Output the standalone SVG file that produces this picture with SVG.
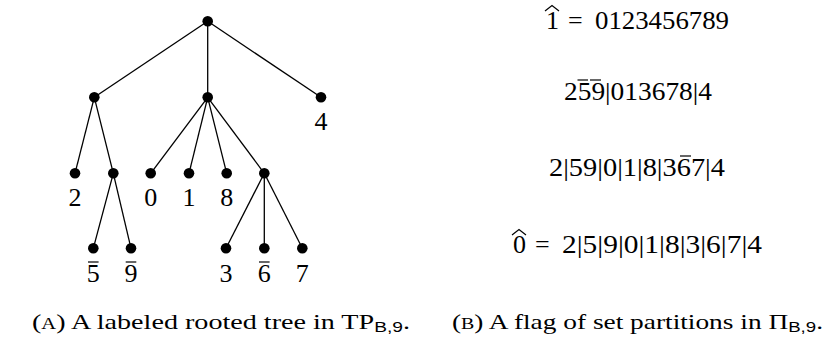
<svg xmlns="http://www.w3.org/2000/svg" width="827" height="338" viewBox="0 0 827 338">
<style>
.e{stroke:#000;stroke-width:1.3;fill:none}
.d{fill:#000}
.t{font-family:"Liberation Serif","DejaVu Serif",serif;font-size:26px;fill:#000}
.l{font-family:"Liberation Serif","DejaVu Serif",serif;font-size:26px;fill:#000;text-anchor:middle}
.b{stroke:#000;stroke-width:1.2;fill:none}
.c{font-family:"Liberation Serif","DejaVu Serif",serif;font-size:22px;fill:#000}
.s{font-family:"Liberation Sans","DejaVu Sans",sans-serif;font-size:15px}
</style>
<rect width="827" height="338" fill="#fff"/>
<g id="connectors">
<line class="e" x1="207.7" y1="21.3" x2="94.3" y2="97.3"/>
<line class="e" x1="207.7" y1="21.3" x2="207.7" y2="97.3"/>
<line class="e" x1="207.7" y1="21.3" x2="321" y2="97.3"/>
<line class="e" x1="94.3" y1="97.3" x2="75" y2="173.3"/>
<line class="e" x1="94.3" y1="97.3" x2="113.3" y2="173.3"/>
<line class="e" x1="207.7" y1="97.3" x2="150.7" y2="173.3"/>
<line class="e" x1="207.7" y1="97.3" x2="189" y2="173.3"/>
<line class="e" x1="207.7" y1="97.3" x2="226.7" y2="173.3"/>
<line class="e" x1="207.7" y1="97.3" x2="264.3" y2="173.3"/>
<line class="e" x1="113.3" y1="173.3" x2="93.3" y2="248.3"/>
<line class="e" x1="113.3" y1="173.3" x2="131" y2="248.3"/>
<line class="e" x1="264.3" y1="173.3" x2="226" y2="248.3"/>
<line class="e" x1="264.3" y1="173.3" x2="264.3" y2="248.3"/>
<line class="e" x1="264.3" y1="173.3" x2="302.3" y2="248.3"/>
</g>
<g id="root"><circle class="d" cx="207.7" cy="21.3" r="5.3"/></g>
<g id="n-a"><circle class="d" cx="94.3" cy="97.3" r="5.3"/></g>
<g id="n-b"><circle class="d" cx="207.7" cy="97.3" r="5.3"/></g>
<g id="n-4"><circle class="d" cx="321" cy="97.3" r="5.3"/><text class="l" x="321" y="130">4</text></g>
<g id="n-2"><circle class="d" cx="75" cy="173.3" r="5.3"/><text class="l" x="75" y="206">2</text></g>
<g id="n-c"><circle class="d" cx="113.3" cy="173.3" r="5.3"/></g>
<g id="n-0"><circle class="d" cx="150.7" cy="173.3" r="5.3"/><text class="l" x="150.7" y="206">0</text></g>
<g id="n-1"><circle class="d" cx="189" cy="173.3" r="5.3"/><text class="l" x="189" y="206">1</text></g>
<g id="n-8"><circle class="d" cx="226.7" cy="173.3" r="5.3"/><text class="l" x="226.7" y="206">8</text></g>
<g id="n-e"><circle class="d" cx="264.3" cy="173.3" r="5.3"/></g>
<g id="n-5b"><circle class="d" cx="93.3" cy="248.3" r="5.3"/><text class="l" x="93.3" y="282">5</text><line class="b" x1="88" y1="262" x2="98.6" y2="262"/></g>
<g id="n-9b"><circle class="d" cx="131" cy="248.3" r="5.3"/><text class="l" x="131" y="282">9</text><line class="b" x1="125.7" y1="262" x2="136.3" y2="262"/></g>
<g id="n-3"><circle class="d" cx="226" cy="248.3" r="5.3"/><text class="l" x="226" y="282">3</text></g>
<g id="n-6b"><circle class="d" cx="264.3" cy="248.3" r="5.3"/><text class="l" x="264.3" y="282">6</text><line class="b" x1="259" y1="262" x2="269.6" y2="262"/></g>
<g id="n-7"><circle class="d" cx="302.3" cy="248.3" r="5.3"/><text class="l" x="302.3" y="282">7</text></g>

<g id="flag">
<text class="t" x="546" y="29">1</text>
<path class="b" d="M545,11 L552,5.5 L559,11"/>
<text class="t" x="568" y="29">=</text>
<text class="t" x="595" y="29" textLength="134" lengthAdjust="spacingAndGlyphs">0123456789</text>

<text class="t" x="564" y="100" textLength="148" lengthAdjust="spacingAndGlyphs">259|013678|4</text>
<line class="b" x1="577.5" y1="80" x2="588" y2="80"/>
<line class="b" x1="590" y1="80" x2="601" y2="80"/>

<text class="t" x="549" y="176" textLength="176" lengthAdjust="spacingAndGlyphs">2|59|0|1|8|367|4</text>
<line class="b" x1="680" y1="156" x2="691" y2="156"/>

<text class="t" x="513" y="253">0</text>
<path class="b" d="M512,235 L519,229.5 L526,235"/>
<text class="t" x="535" y="253">=</text>
<text class="t" x="562" y="253" textLength="200" lengthAdjust="spacingAndGlyphs">2|5|9|0|1|8|3|6|7|4</text>
</g>

<g id="captions">
<text class="c" x="32" y="329" textLength="378" lengthAdjust="spacingAndGlyphs">(<tspan font-size="16">A</tspan>) A labeled rooted tree in TP<tspan class="s" dy="3">B,9</tspan><tspan dy="-3">.</tspan></text>
<text class="c" x="452" y="329" textLength="371" lengthAdjust="spacingAndGlyphs">(<tspan font-size="16">B</tspan>) A flag of set partitions in Π<tspan class="s" dy="3">B,9</tspan><tspan dy="-3">.</tspan></text>
</g>
</svg>
